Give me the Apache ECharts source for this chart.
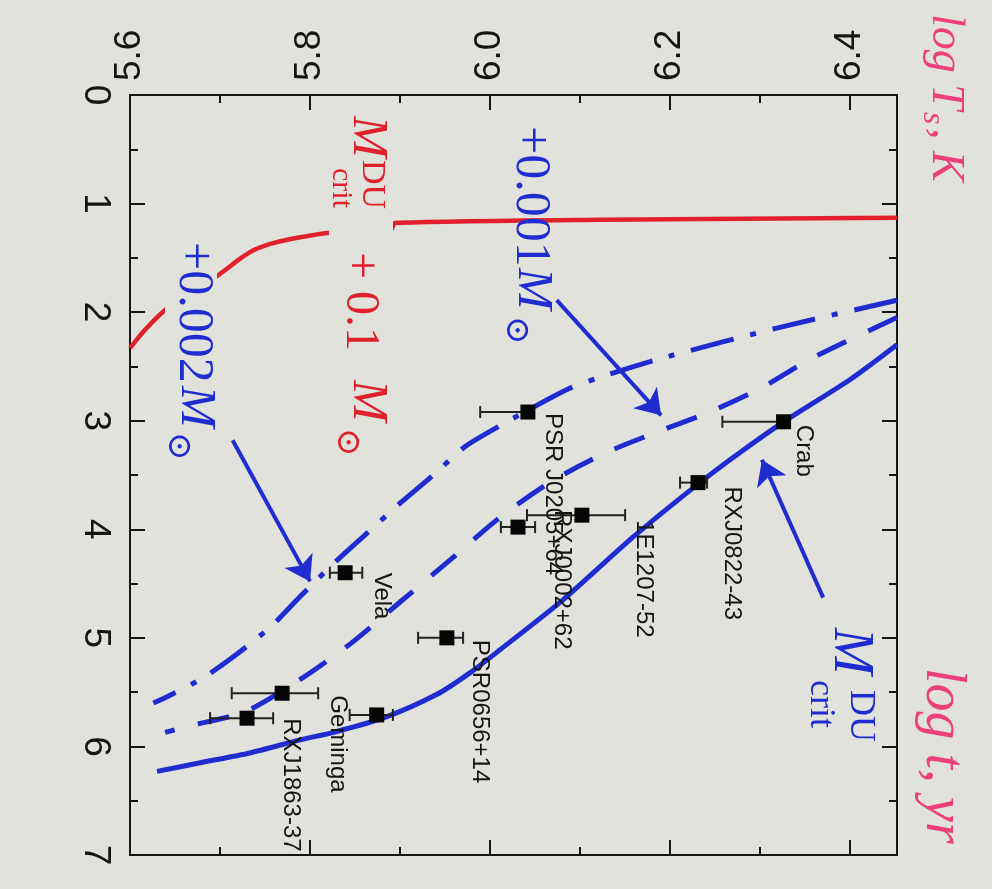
<!DOCTYPE html>
<html>
<head>
<meta charset="utf-8">
<title>Neutron star cooling curves</title>
<script src="https://cdn.jsdelivr.net/npm/echarts@6.0.0/dist/echarts.min.js"></script>
<style>
html,body{margin:0;padding:0;background:#e2e2dc;}
#chart{width:992px;height:889px;}
</style>
</head>
<body>
<div id="chart"></div>
<script>
// ---------------- DATA ----------------
// tick labels
const logTsTicks  = [5.6, 5.8, 6.0, 6.2, 6.4];   // log Ts, K
const logAgeTicks = [0, 1, 2, 3, 4, 5, 6, 7];    // log t, yr

// observed sources
const srcNames  = ['Crab', 'RXJ0822-43', '1E1207-52', 'PSR J0205+64', 'RXJ0002+62', 'Vela', 'PSR0656+14', 'Geminga', 'RXJ1863-37', ''];
const srcLogAge = [3.01, 3.57, 3.87, 2.92, 3.98, 4.40, 5.00, 5.51, 5.74, 5.71];
const srcLogTs  = [6.326, 6.231, 6.102, 6.042, 6.031, 5.839, 5.952, 5.769, 5.730, 5.874];
const srcTsLow  = [6.258, 6.211, 6.041, 5.989, 6.012, 5.822, 5.920, 5.713, 5.689, 5.844];
const srcTsHigh = [6.326, 6.241, 6.150, 6.042, 6.050, 5.858, 5.970, 5.809, 5.759, 5.892];

// cooling curves, points [log t, log Ts]
const curveCrit = [[2.30,6.452],[2.62,6.400],[3.01,6.326],[3.29,6.278],[3.57,6.233],[4.07,6.159],[4.65,6.081],[5.11,6.011],[5.32,5.978],[5.52,5.941],[5.74,5.881],[5.87,5.826],[5.94,5.789],[6.06,5.733],[6.15,5.678],[6.23,5.630]];
const curvePlus001 = [[2.05,6.452],[2.43,6.356],[2.69,6.303],[2.92,6.244],[3.10,6.187],[3.29,6.130],[3.55,6.070],[3.89,6.011],[4.28,5.956],[4.67,5.900],[5.06,5.844],[5.40,5.786],[5.68,5.728],[5.81,5.667],[5.87,5.639]];
const curvePlus002 = [[1.89,6.452],[2.14,6.322],[2.41,6.197],[2.60,6.122],[2.71,6.086],[3.06,6.008],[3.24,5.972],[3.50,5.937],[3.76,5.900],[4.03,5.864],[4.30,5.828],[4.62,5.789],[4.90,5.756],[5.16,5.717],[5.37,5.681],[5.53,5.644],[5.60,5.626]];
const curvePlus01 = [[1.13,6.452],[1.15,6.122],[1.18,5.894],[1.24,5.890],[1.27,5.819],[1.31,5.789],[1.36,5.761],[1.43,5.737],[1.51,5.722],[1.66,5.698],[1.82,5.667],[1.98,5.639],[2.16,5.617],[2.33,5.600]];

// annotation arrows: [fromTs, fromAge, toTs, toAge]
const arrowsData = [[6.074,1.89,6.190,2.95],[5.714,3.18,5.800,4.48],[6.370,4.63,6.302,3.36]];

// ---------------- LAYOUT / STYLE ----------------
const BG = '#e2e2dc';
const BLUE = '#1f2ccf';
const RED = '#e0212b';
const INK = '#151515';
const PINK = '#ec3f7c';
// source label placement: [dx, dy] in px from the marker (text runs downward)
const srcLabelOffset = [[20,3],[34,4],[62,5],[25,1],[44,-17],[36,0],[33,2],[55,2],[44,0],[0,0]];

const chart = echarts.init(document.getElementById('chart'), null, {renderer: 'canvas'});

const tickLine = {color: INK, width: 2};
function xAx(pos, labels) {
  return {
    type: 'value', position: pos, min: logTsTicks[0], max: 6.452, interval: 0.2,
    axisLine: {show: true, onZero: false, lineStyle: tickLine},
    axisTick: {show: true, inside: true, length: 15, lineStyle: tickLine},
    minorTick: {show: true, splitNumber: 2, length: 8, lineStyle: tickLine},
    splitLine: {show: false},
    axisLabel: {
      show: labels, rotate: -90, fontSize: 37, color: INK, margin: 14,
      fontFamily: 'Liberation Sans, Arial, sans-serif', showMaxLabel: false,
      formatter: v => logTsTicks.some(t => Math.abs(t - v) < 1e-6) ? v.toFixed(1) : ''
    }
  };
}
function yAx(pos, labels) {
  return {
    type: 'value', position: pos, inverse: true, min: logAgeTicks[0], max: logAgeTicks[logAgeTicks.length - 1], interval: 1,
    axisLine: {show: true, onZero: false, lineStyle: tickLine},
    axisTick: {show: true, inside: true, length: 15, lineStyle: tickLine},
    minorTick: {show: true, splitNumber: 2, length: 8, lineStyle: tickLine},
    splitLine: {show: false},
    axisLabel: {
      show: labels, rotate: -90, fontSize: 37, color: INK, margin: 16,
      fontFamily: 'Liberation Sans, Arial, sans-serif',
      formatter: v => logAgeTicks.indexOf(v) >= 0 ? String(v) : ''
    }
  };
}

const toXY = arr => arr.map(p => [p[1], p[0]]);

const option = {
  backgroundColor: BG,
  animation: false,
  grid: {left: 130, right: 95, top: 95, bottom: 34, outerBoundsMode: 'none', containLabel: false},
  xAxis: [xAx('top', true), xAx('bottom', false)],
  yAxis: [yAx('left', true), yAx('right', false)],
  series: [
    {type: 'line', name: 'crit', data: toXY(curveCrit), showSymbol: false, symbol: 'none', smooth: 0.25, z: 2,
     lineStyle: {color: BLUE, width: 5}},
    {type: 'line', name: '+0.001', data: toXY(curvePlus001), showSymbol: false, symbol: 'none', smooth: 0.25, z: 2,
     lineStyle: {color: BLUE, width: 5, type: [32, 24]}},
    {type: 'line', name: '+0.002', data: toXY(curvePlus002), showSymbol: false, symbol: 'none', smooth: 0.25, z: 2,
     lineStyle: {color: BLUE, width: 5, type: [44, 17, 6, 17]}},
    {type: 'line', name: '+0.1', data: toXY(curvePlus01), showSymbol: false, symbol: 'none', smooth: 0.2, z: 2,
     lineStyle: {color: RED, width: 4.5}},
    {type: 'lines', coordinateSystem: 'cartesian2d', xAxisIndex: 0, yAxisIndex: 0, z: 3,
     symbol: ['none', 'arrow'], symbolSize: [1, 24],
     lineStyle: {color: BLUE, width: 4, opacity: 1, curveness: 0},
     data: arrowsData.map(a => ({coords: [[a[0], a[1]], [a[2], a[3]]]}))},
    {type: 'custom', name: 'errors', z: 4,
     data: srcNames.map((n, i) => [srcTsLow[i], srcTsHigh[i], srcLogAge[i]]),
     encode: {x: [0, 1], y: 2},
     renderItem: function (params, api) {
       const a = api.coord([api.value(0), api.value(2)]);
       const b = api.coord([api.value(1), api.value(2)]);
       const h = 6;
       const st = {stroke: '#222', lineWidth: 2};
       return {type: 'group', children: [
         {type: 'line', shape: {x1: a[0], y1: a[1], x2: b[0], y2: b[1]}, style: st},
         {type: 'line', shape: {x1: a[0], y1: a[1] - h, x2: a[0], y2: a[1] + h}, style: st},
         {type: 'line', shape: {x1: b[0], y1: b[1] - h, x2: b[0], y2: b[1] + h}, style: st}
       ]};
     }},
    {type: 'scatter', name: 'sources', z: 5, symbol: 'rect', symbolSize: 15,
     itemStyle: {color: '#050505', opacity: 1},
     data: srcNames.map((n, i) => [srcLogTs[i], srcLogAge[i]])}
  ]
};
chart.setOption(option);

// ---------------- ANNOTATIONS ----------------
const ROT = -Math.PI / 2;
function vtext(x, y, text, size, color, family, italic, z) {
  return {type: 'text', x: x, y: y, rotation: ROT, z: z || 12, silent: true,
    style: {text: text, fontSize: size, fill: color, fontFamily: family,
      fontStyle: italic ? 'italic' : 'normal', align: 'left', verticalAlign: 'middle'}};
}
const SERIF = 'Liberation Serif, DejaVu Serif, serif';
const SANS = 'Liberation Sans, Arial, sans-serif';
const g = [];

// masks behind curve labels (label boxes hide the curves)
g.push({type: 'rect', z: 10, silent: true, shape: {x: 329, y: 110, width: 64, height: 365}, style: {fill: BG}});
g.push({type: 'rect', z: 10, silent: true, shape: {x: 165, y: 234, width: 52, height: 236}, style: {fill: BG}});

// source labels
srcNames.forEach((n, i) => {
  if (!n) return;
  const p = chart.convertToPixel({gridIndex: 0}, [srcLogTs[i], srcLogAge[i]]);
  g.push(vtext(p[0] + srcLabelOffset[i][0], p[1] + srcLabelOffset[i][1], n, 24, INK, SANS, false, 12));
});

// red label: M_crit^DU + 0.1 M_sun
g.push(vtext(367, 116, 'M', 50, RED, SERIF, true));
g.push(vtext(372, 160, 'DU', 34, RED, SERIF, false));
g.push(vtext(341, 168, 'crit', 30, RED, SERIF, false));
g.push(vtext(360, 252, '+ 0.1', 48, RED, SERIF, false));
g.push(vtext(367, 380, 'M', 50, RED, SERIF, true));
g.push(vtext(347, 428, '\u2299', 34, RED, 'DejaVu Serif, serif', false));

// blue label: +0.001 M_sun
g.push(vtext(530, 126, '+0.001', 50, BLUE, SERIF, false));
g.push(vtext(532, 268, 'M', 50, BLUE, SERIF, true));
g.push(vtext(516, 316, '\u2299', 34, BLUE, 'DejaVu Serif, serif', false));

// blue label: +0.002 M_sun
g.push(vtext(193, 242, '+0.002', 50, BLUE, SERIF, false));
g.push(vtext(195, 386, 'M', 50, BLUE, SERIF, true));
g.push(vtext(178, 432, '\u2299', 34, BLUE, 'DejaVu Serif, serif', false));

// blue label: M_crit^DU
g.push(vtext(850, 628, 'M', 56, BLUE, SERIF, true));
g.push(vtext(860, 690, 'DU', 36, BLUE, SERIF, false));
g.push(vtext(820, 680, 'crit', 36, BLUE, SERIF, false));

// handwritten axis names
g.push(vtext(945, 14, 'log T', 46, PINK, SERIF, true));
g.push(vtext(932, 112, 's', 32, PINK, SERIF, true));
g.push(vtext(945, 128, ', K', 46, PINK, SERIF, true));
g.push(vtext(942, 668, 'log t, yr', 56, PINK, SERIF, true));

chart.setOption({graphic: {elements: g}});
</script>
</body>
</html>
